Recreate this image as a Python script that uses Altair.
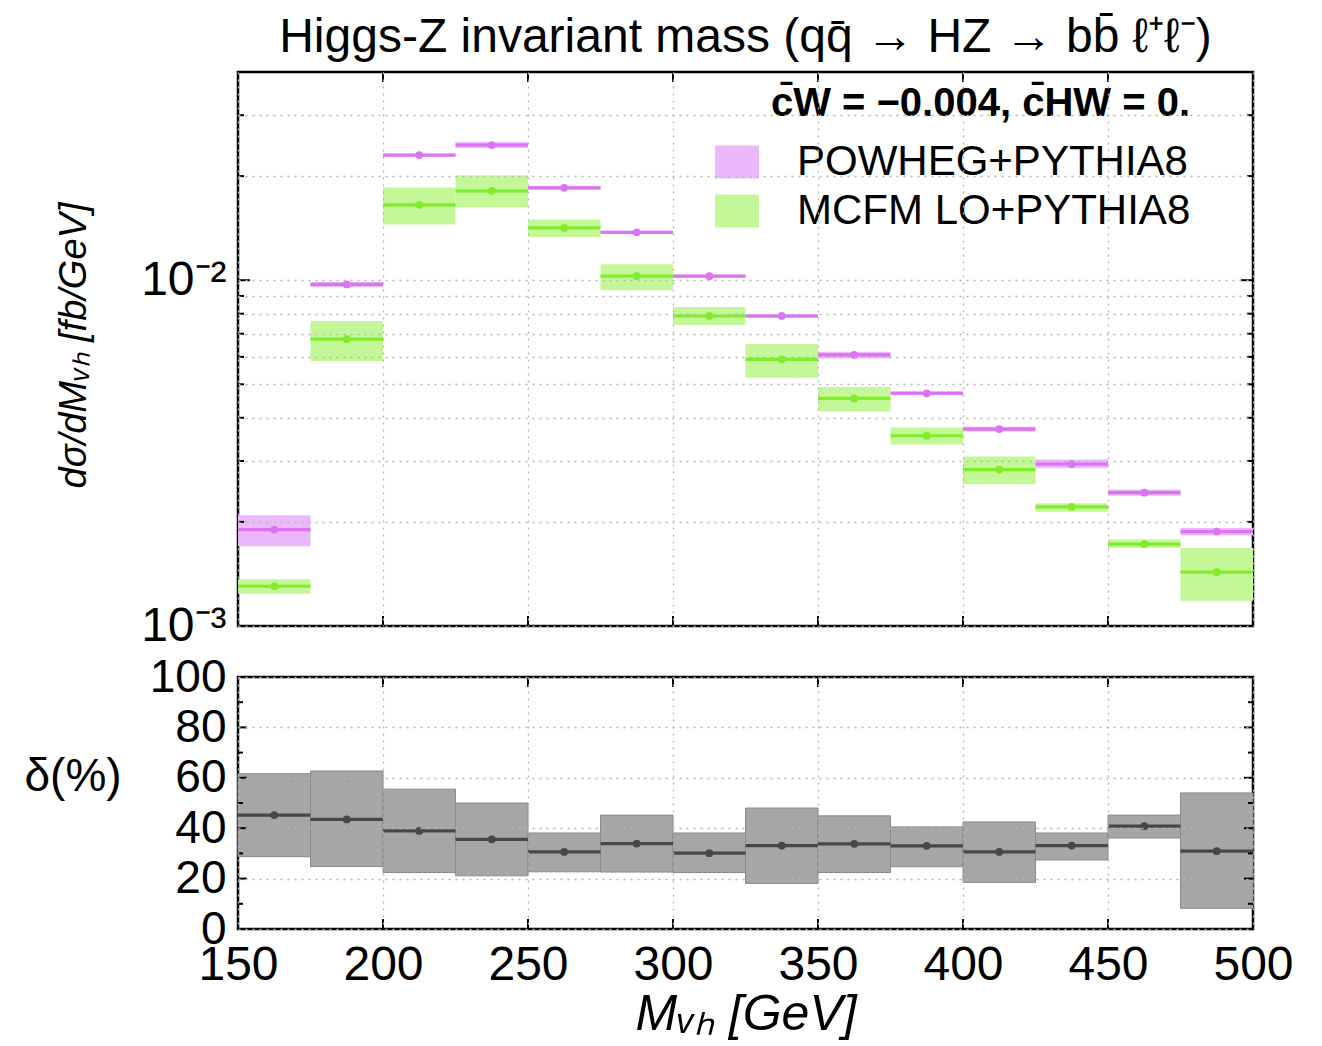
import altair as alt
import pandas as pd

# ---------------- data ----------------
bin_lo = [150, 175, 200, 225, 250, 275, 300, 325, 350, 375, 400, 425, 450, 475]
bin_hi = [175, 200, 225, 250, 275, 300, 325, 350, 375, 400, 425, 450, 475, 500]
bin_mid = [162.5, 187.5, 212.5, 237.5, 262.5, 287.5, 312.5, 337.5, 362.5, 387.5, 412.5, 437.5, 462.5, 487.5]

series_names = ["POWHEG+PYTHIA8", "MCFM LO+PYTHIA8"]

powheg = [0.00190, 0.00972, 0.0230, 0.0246, 0.0185, 0.01375, 0.01027, 0.00788, 0.00608, 0.00471, 0.00371, 0.00294, 0.00243, 0.001875]
powheg_lo = [0.00170, 0.00956, 0.0228, 0.0241, 0.0183, 0.01361, 0.01017, 0.00778, 0.00595, 0.00465, 0.00365, 0.00286, 0.00238, 0.00183]
powheg_hi = [0.00209, 0.00988, 0.0232, 0.0251, 0.0187, 0.01389, 0.01037, 0.00798, 0.00621, 0.00477, 0.00377, 0.00303, 0.00248, 0.00192]

mcfm = [0.001303, 0.00675, 0.01652, 0.01813, 0.01416, 0.01027, 0.00788, 0.00590, 0.00455, 0.00355, 0.002834, 0.00221, 0.001726, 0.001431]
mcfm_lo = [0.001239, 0.00584, 0.01450, 0.01626, 0.01333, 0.00936, 0.00742, 0.00522, 0.00417, 0.00335, 0.00257, 0.002141, 0.001681, 0.001183]
mcfm_hi = [0.001366, 0.00762, 0.01854, 0.02007, 0.01499, 0.01112, 0.00836, 0.00654, 0.00491, 0.00375, 0.00309, 0.002263, 0.001782, 0.001681]

delta = [45.2, 43.5, 38.9, 35.6, 30.6, 33.9, 30.1, 33.1, 33.8, 33.0, 30.6, 33.1, 40.8, 30.9]
delta_lo = [28.7, 24.8, 22.4, 21.1, 22.7, 22.6, 22.4, 18.1, 22.4, 24.7, 18.5, 27.4, 36.1, 8.2]
delta_hi = [61.6, 62.7, 55.5, 50.0, 38.1, 45.2, 38.1, 48.0, 44.9, 40.5, 42.5, 38.1, 45.2, 54.0]

x_ticks = [150, 200, 250, 300, 350, 400, 450, 500]
top_y_ticks = [0.001, 0.002, 0.003, 0.004, 0.005, 0.006, 0.007, 0.008, 0.009, 0.01, 0.02, 0.03]
top_minor = [0.002, 0.003, 0.004, 0.005, 0.006, 0.007, 0.008, 0.009, 0.02, 0.03]
top_major = [0.01]
bot_y_ticks = [0, 10, 20, 30, 40, 50, 60, 70, 80, 90, 100]
bot_major = [20, 40, 60, 80]
bot_minor = [10, 30, 50, 70, 90]
inner_x = [200, 250, 300, 350, 400, 450]

band_colors = ["#ebb8fb", "#c4f797"]
line_colors = ["#dd73f3", "#80ec2a"]

# ---------------- tables ----------------
rows = []
for name, v, lo, hi in [(series_names[0], powheg, powheg_lo, powheg_hi),
                        (series_names[1], mcfm, mcfm_lo, mcfm_hi)]:
    for i in range(len(bin_lo)):
        rows.append(dict(series=name, lo=bin_lo[i], hi=bin_hi[i], mid=bin_mid[i],
                         v=v[i], vlo=lo[i], vhi=hi[i]))
df = pd.DataFrame(rows)
ddf = pd.DataFrame(dict(lo=bin_lo, hi=bin_hi, mid=bin_mid, d=delta, dlo=delta_lo, dhi=delta_hi))

W, HT, HB = 1015, 554, 252
GRID = dict(grid=True, gridColor="#b4b4b4", gridDash=[2, 5], gridWidth=1.3)

xscale = alt.Scale(domain=[150, 500], nice=False, zero=False)
ytop = alt.Scale(type="log", domain=[0.001, 0.04], nice=False)
ybot = alt.Scale(domain=[0, 100], nice=False, zero=False)

# ---------------- top panel ----------------
x_top_axis = alt.Axis(values=x_ticks, labels=False, ticks=False, domain=False, title=None,
                      zindex=1, **GRID)
y_top_axis = alt.Axis(values=top_y_ticks,
                      labelExpr="abs(log(datum.value)/LN10 + 2) < 1e-6 ? '10⁻²' : (abs(log(datum.value)/LN10 + 3) < 1e-6 ? '10⁻³' : '')",
                      ticks=False, domain=False, labelFontSize=48, labelPadding=12,
                      labelOverlap=False, labelFlush=False, zindex=1,
                      title="dσ/dMᵥₕ [fb/GeV]", titleFontSize=38, titleFontWeight="normal",
                      titleFontStyle="italic", titleAngle=270, titleX=-164, titleY=273,
                      titleAlign="center", titleBaseline="middle", **GRID)

base_top = alt.Chart(df)

bands = base_top.mark_rect(opacity=1).encode(
    x=alt.X("lo:Q", scale=xscale, axis=x_top_axis),
    x2="hi:Q",
    y=alt.Y("vlo:Q", scale=ytop, axis=y_top_axis),
    y2="vhi:Q",
    color=alt.Color("series:N", scale=alt.Scale(domain=series_names, range=band_colors),
                    legend=alt.Legend(title="c̄W = −0.004, c̄HW = 0.", orient="none",
                                      legendX=477, legendY=12,
                                      symbolType="M-1,-0.75H1V0.75H-1Z", symbolSize=1936,
                                      symbolStrokeWidth=0, symbolOpacity=1,
                                      labelFontSize=42, labelOffset=38, rowPadding=6,
                                      titleFontSize=40, titleFontWeight="bold",
                                      titleAnchor="end", titlePadding=16, padding=0,
                                      labelLimit=0, titleLimit=0)),
)
lines = base_top.mark_rule(strokeWidth=3.2).encode(
    x="lo:Q", x2="hi:Q", y="v:Q",
    stroke=alt.Stroke("series:N", scale=alt.Scale(domain=series_names, range=line_colors), legend=None),
)
points = base_top.mark_circle(size=60, opacity=1).encode(
    x="mid:Q", y="v:Q",
    fill=alt.Fill("series:N", scale=alt.Scale(domain=series_names, range=line_colors), legend=None),
)

def yticks(values, length, width, height, field="t"):
    d = pd.DataFrame({field: values})
    left = alt.Chart(d).mark_rule(color="black", strokeWidth=2).encode(
        y=alt.Y(f"{field}:Q"), x=alt.value(0), x2=alt.value(length))
    right = alt.Chart(d).mark_rule(color="black", strokeWidth=2).encode(
        y=alt.Y(f"{field}:Q"), x=alt.value(width), x2=alt.value(width - length))
    return [left, right]

def xticks(values, length, height):
    d = pd.DataFrame({"t": values})
    top = alt.Chart(d).mark_rule(color="black", strokeWidth=2).encode(
        x=alt.X("t:Q"), y=alt.value(0), y2=alt.value(length))
    bot = alt.Chart(d).mark_rule(color="black", strokeWidth=2).encode(
        x=alt.X("t:Q"), y=alt.value(height), y2=alt.value(height - length))
    return [top, bot]

top = alt.layer(
    bands, lines, points,
    *yticks(top_minor, 6, W, HT), *yticks(top_major, 12, W, HT),
    *xticks(inner_x, 10, HT),
).resolve_scale(color="independent", stroke="independent", fill="independent").properties(
    width=W, height=HT,
    title=alt.TitleParams("Higgs-Z invariant mass (qq̄ → HZ → bb̄ ℓ⁺ℓ⁻)", fontSize=48,
                          fontWeight="normal", anchor="middle", frame="group", offset=9),
)

# ---------------- bottom panel ----------------
x_bot_axis = alt.Axis(values=x_ticks, ticks=False, domain=False, labelFontSize=48,
                      labelPadding=12, labelFlush=False, labelOverlap=False, zindex=1,
                      title="Mᵥₕ [GeV]", titleFontSize=50, titleFontWeight="normal",
                      titleFontStyle="italic", titlePadding=0, **GRID)
y_bot_axis = alt.Axis(values=bot_y_ticks, labelExpr="datum.value % 20 == 0 ? datum.label : ''",
                      ticks=False, domain=False, labelFontSize=46, labelPadding=12,
                      labelOverlap=False, labelFlush=False, zindex=1,
                      title="δ(%)", titleFontSize=46, titleFontWeight="normal", titleAngle=0,
                      titleX=-214, titleY=99, titleAlign="left", titleBaseline="middle", **GRID)

base_bot = alt.Chart(ddf)
dband = base_bot.mark_rect(color="#a6a6a6", stroke="#8a8a8a", strokeWidth=1, opacity=1).encode(
    x=alt.X("lo:Q", scale=xscale, axis=x_bot_axis), x2="hi:Q",
    y=alt.Y("dlo:Q", scale=ybot, axis=y_bot_axis), y2="dhi:Q",
)
dline = base_bot.mark_rule(color="#474747", strokeWidth=3.2).encode(x="lo:Q", x2="hi:Q", y="d:Q")
dpoint = base_bot.mark_circle(color="#474747", size=60, opacity=1).encode(x="mid:Q", y="d:Q")

bottom = alt.layer(
    dband, dline, dpoint,
    *yticks(bot_minor, 5, W, HB), *yticks(bot_major, 9, W, HB),
    *xticks(inner_x, 10, HB),
).properties(width=W, height=HB)

chart = alt.vconcat(top, bottom, spacing=0).properties(
    padding={"left": 14, "top": 4, "right": 5, "bottom": 2},
).configure(font="Liberation Sans").configure_view(
    stroke="black", strokeWidth=2.5
).configure_axis(labelColor="black", titleColor="black").configure_title(color="black")

chart.save("out.html", embed_options={"renderer": "svg", "actions": False})
